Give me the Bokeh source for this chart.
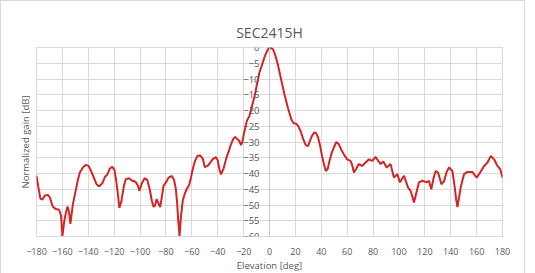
from bokeh.plotting import figure
from bokeh.models import Range1d, FixedTicker, Title
from bokeh.embed import file_html
from bokeh.resources import INLINE

elevation = [-180, -178.5, -177, -175.5, -173.5, -171, -169.5, -167.5, -165, -162.5,
             -161, -160, -158.5, -157, -156, -154.8, -153.8, -152, -150, -148,
             -146.5, -144, -142, -140, -138.5, -136, -133.5, -131.5, -129, -127,
             -125.5, -123.5, -121.5, -119.8, -118.5, -117, -116, -114.5, -112.5, -111,
             -108.5, -106, -103.5, -101.5, -100.5, -98.5, -96.5, -94.5, -92.5, -91,
             -89.7, -88.5, -87.2, -85.8, -84.5, -83, -81.9, -79.5, -78, -75.5,
             -73.8, -72.5, -71.4, -70.5, -69.5, -68.5, -67, -65.5, -64, -62,
             -60.5, -59, -57.5, -55.6, -53.5, -51.5, -50, -48, -46.5, -44,
             -41.5, -40, -38.8, -37.5, -35.5, -33.5, -31.5, -30, -28, -26.5,
             -25, -23.5, -22, -21, -19.5, -17.5, -15.5, -13.5, -11.5, -9.7,
             -7.9, -5.8, -3.8, -2, -0.5, 1.3, 3.0, 4.5, 6.5, 9,
             11.6, 14.2, 16.8, 18.5, 20.5, 22, 24, 26, 28, 29.7,
             31, 32.5, 34.5, 36, 37.5, 39, 40.5, 42, 43.5, 45,
             46.5, 48, 50, 51.6, 53.5, 55.5, 57.4, 60, 62.6, 64,
             65.2, 67, 69, 71.6, 74.2, 76.8, 79.4, 81.9, 84, 85.8,
             87.9, 90.5, 93.5, 96.1, 98.7, 100.8, 103.9, 107, 109, 110.5,
             111.6, 113.5, 115.5, 118, 121.4, 123.2, 125, 126.7, 128.4, 130.2,
             131.5, 132.8, 134.8, 136.8, 138.7, 141.3, 143.1, 144.3, 145.2, 146.5,
             147.7, 150.3, 152.9, 156.8, 158.5, 160.1, 162.7, 165.8, 168.4, 171,
             173.5, 176.1, 178.2, 180]
gain = [-40.7, -44.5, -48.0, -48.3, -47.0, -46.8, -47.8, -50.5, -51.3, -51.5,
        -53.5, -60.0, -55.0, -52.0, -50.5, -52.5, -56.0, -50.0, -46.0, -42.0,
        -39.7, -38.0, -37.3, -37.5, -38.6, -41.0, -43.5, -44.1, -43.0, -41.0,
        -40.5, -38.5, -37.9, -38.8, -42.0, -47.0, -50.9, -49.0, -44.0, -41.8,
        -41.5, -42.3, -42.6, -44.0, -45.5, -43.0, -41.5, -42.0, -45.0, -48.5,
        -50.5, -50.3, -48.1, -49.5, -50.7, -47.0, -43.9, -42.5, -41.3, -40.8,
        -42.0, -44.5, -49.0, -55.0, -60.0, -54.0, -48.6, -46.5, -45.0, -43.6,
        -41.0, -38.1, -36.0, -34.4, -34.3, -35.3, -38.0, -37.6, -37.0, -35.5,
        -34.8, -35.8, -38.5, -40.3, -38.5, -35.3, -33.0, -31.0, -29.0, -28.4,
        -29.0, -29.6, -31.0, -30.0, -26.8, -23.3, -21.7, -18.6, -15.4, -11.7,
        -8.1, -5.5, -3.0, -1.2, -0.2, -0.1, -0.8, -2.5, -5.5, -10.2,
        -14.9, -19.1, -22.7, -24.0, -24.2, -24.8, -26.5, -29.0, -31.0, -31.3,
        -30.0, -28.3, -27.0, -27.2, -28.5, -31.0, -34.3, -37.0, -39.2, -38.5,
        -35.8, -33.5, -31.5, -30.0, -30.7, -32.5, -33.9, -35.5, -36.0, -37.5,
        -39.7, -38.5, -37.0, -37.6, -36.5, -35.5, -36.0, -34.7, -36.0, -37.0,
        -36.2, -38.1, -37.0, -41.3, -40.2, -42.8, -40.7, -44.4, -45.5, -47.5,
        -49.2, -46.0, -42.8, -42.3, -42.8, -42.3, -45.0, -41.5, -39.2, -39.7,
        -41.5, -43.4, -42.5, -39.5, -38.1, -39.2, -44.4, -48.5, -50.7, -47.5,
        -44.4, -40.2, -39.5, -39.5, -40.5, -41.3, -39.7, -37.6, -36.5, -34.4,
        -35.5, -37.6, -38.6, -41.3]

x_ticks = list(range(-180, 181, 20))
y_ticks = list(range(-60, 1, 5))

FONT = "Open Sans"
GREY = "#595959"
GRID = "#d9d9d9"

p = figure(frame_width=466, frame_height=189, output_backend="svg", toolbar_location=None,
           x_range=Range1d(-180, 180), y_range=Range1d(-60, 0),
           min_border_left=35, min_border_right=22, min_border_top=46,
           min_border_bottom=30)
p.styles = {"border": "1px solid #d9d9d9"}

p.title.text = "SEC2415H"
p.title.align = "center"
p.title.text_font = FONT
p.title.text_font_size = "14px"
p.title.text_font_style = "normal"
p.title.text_color = GREY
p.title.standoff = 12

p.line(elevation, gain, line_color="#d42424", line_width=2)

p.xaxis.ticker = FixedTicker(ticks=x_ticks)
p.xaxis.major_tick_line_color = None
p.xaxis.minor_tick_line_color = None
p.xaxis.axis_line_color = GRID
p.xaxis.major_label_text_font = FONT
p.xaxis.major_label_text_font_size = "9px"
p.xaxis.major_label_text_color = GREY
p.xaxis.major_label_standoff = 5
p.xaxis.axis_label = "Elevation [deg]"
p.xaxis.axis_label_text_font = FONT
p.xaxis.axis_label_text_font_size = "9.5px"
p.xaxis.axis_label_text_font_style = "normal"
p.xaxis.axis_label_text_color = GREY
p.xaxis.axis_label_standoff = 1

p.yaxis.ticker = FixedTicker(ticks=y_ticks)
p.yaxis.fixed_location = 0
p.yaxis.major_tick_line_color = None
p.yaxis.minor_tick_line_color = None
p.yaxis.axis_line_color = "#c8c8c8"
p.yaxis.major_label_text_font = FONT
p.yaxis.major_label_text_font_size = "9.5px"
p.yaxis.major_label_text_color = GREY
p.yaxis.major_label_standoff = 4

p.add_layout(Title(text="Normalized gain [dB]", align="center", text_font=FONT,
                   text_font_size="9.5px", text_font_style="normal",
                   text_color=GREY), "left")

p.xgrid.ticker = FixedTicker(ticks=x_ticks)
p.ygrid.ticker = FixedTicker(ticks=y_ticks)
p.grid.grid_line_color = GRID
p.grid.grid_line_width = 1
p.outline_line_color = GRID

open("out.html", "w").write(file_html(p, INLINE))
